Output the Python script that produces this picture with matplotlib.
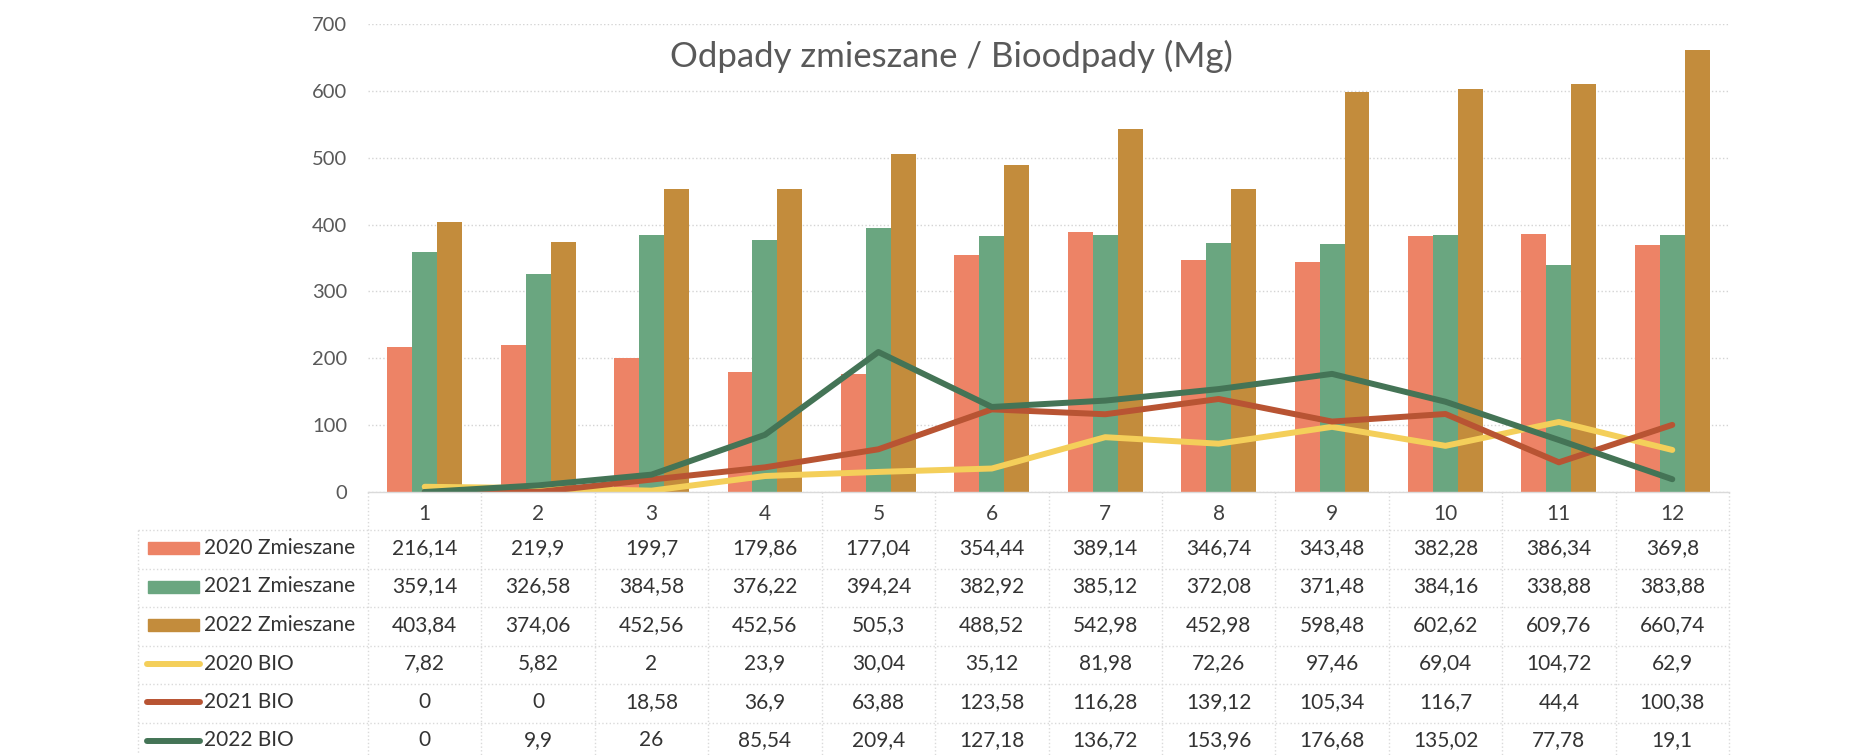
import matplotlib.pyplot as plt
from matplotlib import transforms
from matplotlib.lines import Line2D
from matplotlib.patches import Rectangle

plt.rcParams['font.family'] = ['Lato', 'DejaVu Sans']

# data
months = [1, 2, 3, 4, 5, 6, 7, 8, 9, 10, 11, 12]
zm_2020 = [216.14, 219.9, 199.7, 179.86, 177.04, 354.44, 389.14, 346.74, 343.48, 382.28, 386.34, 369.8]
zm_2021 = [359.14, 326.58, 384.58, 376.22, 394.24, 382.92, 385.12, 372.08, 371.48, 384.16, 338.88, 383.88]
zm_2022 = [403.84, 374.06, 452.56, 452.56, 505.3, 488.52, 542.98, 452.98, 598.48, 602.62, 609.76, 660.74]
bio_2020 = [7.82, 5.82, 2, 23.9, 30.04, 35.12, 81.98, 72.26, 97.46, 69.04, 104.72, 62.9]
bio_2021 = [0, 0, 18.58, 36.9, 63.88, 123.58, 116.28, 139.12, 105.34, 116.7, 44.4, 100.38]
bio_2022 = [0, 9.9, 26, 85.54, 209.4, 127.18, 136.72, 153.96, 176.68, 135.02, 77.78, 19.1]

bar_series = [("2020 Zmieszane", zm_2020, "#ed8366"),
              ("2021 Zmieszane", zm_2021, "#6aa680"),
              ("2022 Zmieszane", zm_2022, "#c38c3c")]
line_series = [("2020 BIO", bio_2020, "#f4cf5a"),
               ("2021 BIO", bio_2021, "#b85433"),
               ("2022 BIO", bio_2022, "#447456")]

W, H = 1872, 755
def fx(x):
    return x / W
def fy(y):
    return 1 - y / H

fig = plt.figure(figsize=(W / 100, H / 100), dpi=100)
ax = fig.add_axes([fx(368), fy(492), fx(1729) - fx(368), fy(24) - fy(492)])

bw = 0.22
for k, (name, vals, col) in enumerate(bar_series):
    ax.bar([m + (k - 1) * bw for m in months], vals, width=bw, color=col, zorder=2)

for k, (name, vals, col) in enumerate(line_series):
    ax.plot(months, vals, color=col, lw=4.3, solid_capstyle='round', zorder=3 + k)

ax.set_xlim(0.5, 12.5)
ax.set_ylim(0, 700)
ax.set_yticks(range(0, 701, 100))
ax.set_xticks(months)
ax.tick_params(axis='y', length=0, pad=15, labelsize=14.5, labelcolor='#595959')
ax.tick_params(axis='x', length=0, pad=9, labelsize=15, labelcolor='#404040')
ax.yaxis.grid(True, linestyle=':', color='#d4d4d4', linewidth=1)
ax.set_axisbelow(True)
for s in ax.spines.values():
    s.set_visible(False)

fig.text(fx(951), fy(56), "Odpady zmieszane / Bioodpady (Mg)", ha='center', va='center',
         fontsize=25, color='#595959')

# data table below the axis
tr = transforms.blended_transform_factory(ax.transData, fig.transFigure)
row_h = 38.5
grid_col = '#dadada'

fig.add_artist(Line2D([fx(368), fx(1729)], [fy(492), fy(492)], color=grid_col, lw=1))
for r in range(7):
    yy = 530 + r * row_h
    fig.add_artist(Line2D([fx(138), fx(1729)], [fy(yy), fy(yy)], color=grid_col, lw=1, ls=':'))
for m in [0.5] + [m + 0.5 for m in months]:
    fig.add_artist(Line2D([m, m], [fy(492), 0], transform=tr, color=grid_col, lw=1, ls=':'))
fig.add_artist(Line2D([fx(138), fx(138)], [fy(530), 0], color=grid_col, lw=1, ls=':'))

def fmt(v):
    return f"{v:g}".replace('.', ',')

all_rows = bar_series + line_series
for r, (name, vals, col) in enumerate(all_rows):
    yc = fy(548 + r * row_h)
    if r < 3:
        fig.add_artist(Rectangle((fx(148), yc - 6 / H), fx(51), 12 / H, color=col))
    else:
        fig.add_artist(Line2D([fx(147), fx(200)], [yc, yc], color=col, lw=4.3,
                              solid_capstyle='round'))
    fig.text(fx(204), yc, name, ha='left', va='center', fontsize=15, color='#333333')
    for m, v in zip(months, vals):
        fig.text(m, yc, fmt(v), transform=tr, ha='center', va='center',
                 fontsize=15, color='#333333')

fig.savefig("out.png", dpi=100, facecolor='white')
